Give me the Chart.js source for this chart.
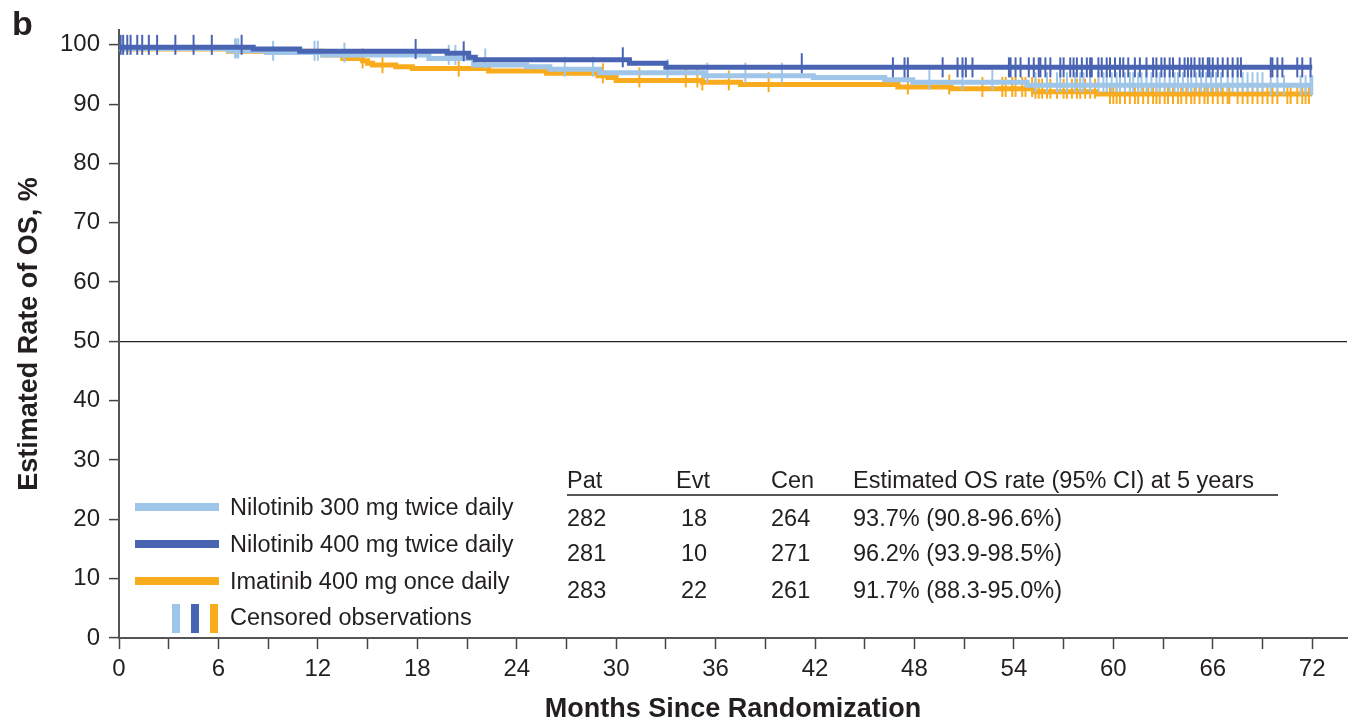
<!DOCTYPE html>
<html>
<head>
<meta charset="utf-8">
<script src="https://cdn.jsdelivr.net/npm/chart.js@4/dist/chart.umd.min.js"></script>
<style>
  html, body { margin: 0; padding: 0; background: #fff; }
  #wrap { position: relative; width: 1351px; height: 724px; font-family: "Liberation Sans", Arial, sans-serif; color: #231f20; }
  #c { position: absolute; left: 0; top: 0; }
  .panel { position: absolute; left: 12px; top: 4px; font-size: 34px; font-weight: bold; }
  .lg { position: absolute; font-size: 23.5px; line-height: 28px; white-space: nowrap; }
  .sw { position: absolute; height: 8px; width: 84px; left: 135px; }
  .bar { position: absolute; width: 8px; height: 29px; top: 604px; }
  .tb { position: absolute; font-size: 23.5px; line-height: 28px; white-space: nowrap; }
  .rule { position: absolute; left: 567px; width: 711px; top: 494px; height: 2px; background: #555; }
</style>
</head>
<body>
<div id="wrap">
  <canvas id="c" width="1351" height="724"></canvas>
  <div class="panel">b</div>
</div>
<script>
// --- data (months / %) ---
const xTicks = [0, 3, 6, 9, 12, 15, 18, 21, 24, 27, 30, 33, 36, 39, 42, 45, 48, 51, 54, 57, 60, 63, 66, 69, 72];
const yTicks = [0, 10, 20, 30, 40, 50, 60, 70, 80, 90, 100];

const armNames = ["Nilotinib 300 mg twice daily", "Nilotinib 400 mg twice daily", "Imatinib 400 mg once daily"];
const armColors = ["#9fc6e8", "#4a64b4", "#f9ab1e"];

// step curves: time of step, survival after step
const nil300Time = [0, 6.6, 8.9, 12.3, 18.7, 21.4, 24.6, 26.0, 29.0, 35.3, 41.9, 46.2, 47.9, 54.8, 69.3, 72];
const nil300Surv = [100, 99.4, 99.0, 98.7, 98.3, 97.7, 96.6, 96.3, 95.9, 95.3, 94.8, 94.5, 94.1, 93.7, 93.2, 93.2];
const nil400Time = [0, 8.1, 10.9, 19.8, 21.1, 21.5, 30.8, 33.0, 43.2, 72];
const nil400Surv = [100, 99.6, 99.3, 98.9, 98.6, 97.9, 97.5, 96.9, 96.2, 96.2];
const imaTime = [0, 6.6, 12.3, 13.5, 14.7, 15.0, 15.3, 16.7, 17.7, 22.3, 25.8, 28.9, 29.5, 30.0, 35.2, 37.5, 47.0, 50.2, 55.2, 59.0, 59.7, 72];
const imaSurv = [100, 99.3, 98.9, 98.3, 97.7, 97.3, 96.9, 96.6, 96.3, 96.0, 95.6, 95.2, 94.8, 94.5, 94.0, 93.7, 93.3, 92.9, 92.6, 92.1, 91.7, 91.7];

// censored observations (months)
const nil300Cens = [7.0, 7.1, 7.2, 9.3, 11.8, 12.0, 13.6, 19.9, 20.3, 22.1, 26.9, 28.6, 33.1, 35.5, 37.8, 40.0, 48.9, 50.9, 52.7,
  55.3, 56.0, 56.6, 56.8, 57.2, 57.7, 58.0, 58.2, 58.6, 59.1, 59.4, 59.6, 59.9, 60.2, 60.4, 60.7, 61.0, 61.2, 61.5, 61.7, 62.0,
  62.3, 62.6, 62.8, 63.1, 63.4, 63.7, 63.9, 64.2, 64.5, 64.7, 65.0, 65.3, 65.6, 65.9, 66.2, 66.5, 66.9, 67.2, 67.5, 67.8, 68.1,
  68.4, 68.7, 69.0, 69.5, 69.9, 70.3, 71.3, 71.6, 71.9, 72.0];
const nil400Cens = [0.1, 0.25, 0.5, 0.7, 1.1, 1.4, 1.8, 2.3, 3.4, 4.5, 5.6, 7.4, 17.9, 20.8, 30.4, 41.2, 46.7, 47.4, 47.6, 49.7,
  50.6, 50.9, 51.1, 51.5, 53.7, 53.8, 54.1, 54.4, 54.9, 55.2, 55.5, 55.6, 55.9, 56.2, 56.8, 57.0, 57.4, 57.6, 57.8, 58.1, 58.4,
  58.6, 58.7, 59.1, 59.3, 59.6, 59.8, 60.1, 60.4, 60.6, 60.9, 61.3, 61.6, 62.0, 62.4, 62.6, 62.9, 63.1, 63.4, 63.6, 64.0, 64.3,
  64.5, 64.7, 64.9, 65.2, 65.4, 65.7, 65.8, 66.0, 66.3, 66.6, 66.9, 67.2, 67.5, 67.7, 69.5, 69.6, 69.9, 70.2, 71.1, 71.4, 71.9];
const imaCens = [14.7, 15.9, 20.5, 29.2, 31.4, 34.2, 34.9, 35.2, 36.8, 39.2, 47.6, 50.1, 52.1, 53.3, 53.5, 53.9, 54.1, 54.5,
  54.7, 55.1, 55.3, 55.5, 55.7, 56.0, 56.2, 56.6, 57.0, 57.2, 57.5, 57.8, 58.0, 58.3, 58.6, 58.9, 59.8, 60.0, 60.2, 60.4, 60.7,
  61.0, 61.3, 61.5, 61.8, 62.1, 62.4, 62.6, 62.8, 63.1, 63.3, 63.6, 63.9, 64.1, 64.4, 64.7, 64.9, 65.2, 65.5, 65.7, 66.0, 66.3,
  66.6, 66.9, 67.0, 67.5, 67.8, 68.1, 68.4, 68.7, 69.0, 69.3, 69.6, 69.9, 70.5, 70.7, 71.1, 71.4, 71.6, 71.8];

// table at the bottom right
const tableHead = ["Pat", "Evt", "Cen", "Estimated OS rate (95% CI) at 5 years"];
const patCol = ["282", "281", "283"];
const evtCol = ["18", "10", "22"];
const cenCol = ["264", "271", "261"];
const rateCol = ["93.7% (90.8-96.6%)", "96.2% (93.9-98.5%)", "91.7% (88.3-95.0%)"];

// --- helpers ---
function curvePoints(times, surv) {
  return times.map((t, i) => ({ x: t, y: surv[i] }));
}
// value of the step curve at time t (lookup, no interpolation)
function survAt(times, surv, t) {
  let v = surv[0];
  for (let i = 0; i < times.length; i++) {
    if (times[i] <= t) v = surv[i];
  }
  return v;
}
function censPoints(cens, times, surv) {
  return cens.map(t => ({ x: t, y: survAt(times, surv, t) }));
}

function lineSet(label, times, surv, color, order) {
  return {
    label, data: curvePoints(times, surv), borderColor: color, borderWidth: 5,
    stepped: "after", pointRadius: 0, fill: false, order
  };
}
function censSet(label, cens, times, surv, color, order) {
  return {
    label, data: censPoints(cens, times, surv), showLine: false,
    pointStyle: "line", pointRotation: 90, pointRadius: 10,
    pointBorderColor: color, pointBorderWidth: 2, order
  };
}

// --- chart ---
Chart.defaults.font.family = '"Liberation Sans", Arial, sans-serif';
Chart.defaults.color = "#231f20";

const ctx = document.getElementById("c").getContext("2d");
new Chart(ctx, {
  type: "line",
  data: {
    datasets: [
      censSet("cens400", nil400Cens, nil400Time, nil400Surv, armColors[1], 1),
      lineSet(armNames[1], nil400Time, nil400Surv, armColors[1], 2),
      censSet("cens300", nil300Cens, nil300Time, nil300Surv, armColors[0], 3),
      lineSet(armNames[0], nil300Time, nil300Surv, armColors[0], 4),
      censSet("censIma", imaCens, imaTime, imaSurv, armColors[2], 5),
      lineSet(armNames[2], imaTime, imaSurv, armColors[2], 6)
    ]
  },
  options: {
    responsive: false,
    animation: false,
    devicePixelRatio: 1,
    layout: { autoPadding: false, padding: { top: 30, right: 4, left: 0, bottom: 0 } },
    plugins: { legend: { display: false }, tooltip: { enabled: false } },
    scales: {
      x: {
        type: "linear", min: 0, max: 74.1,
        afterFit: s => { s.height = 86; },
        afterBuildTicks: s => { s.ticks = xTicks.map(v => ({ value: v })); },
        border: { color: "#555", width: 2 },
        grid: { drawOnChartArea: false, tickLength: 11, tickColor: "#444", tickWidth: 1.5 },
        ticks: {
          padding: 6, font: { size: 24 }, maxRotation: 0, autoSkip: false,
          callback: v => (v % 6 === 0 ? v : "")
        },
        title: { display: true, text: "Months Since Randomization", font: { size: 27, weight: "bold", lineHeight: 1 }, padding: { top: 0, bottom: 1 } }
      },
      y: {
        min: 0, max: 102.5,
        afterFit: s => { s.width = 119; },
        afterBuildTicks: s => { s.ticks = yTicks.map(v => ({ value: v })); },
        border: { color: "#555", width: 2 },
        grid: {
          drawOnChartArea: true, tickLength: 10, tickColor: "#444", tickWidth: 1.5,
          color: c => (c.tick && c.tick.value === 50 ? "#222" : "rgba(0,0,0,0)"), lineWidth: 1.2
        },
        ticks: { padding: 9, font: { size: 24 } },
        title: { display: true, text: "Estimated Rate of OS, %", font: { size: 27, weight: "bold", lineHeight: 1 }, padding: { top: 16, bottom: 0 } }
      }
    }
  }
});

// --- legend and table as page text ---
const wrap = document.getElementById("wrap");
function addDiv(cls, style, text) {
  const d = document.createElement("div");
  d.className = cls;
  Object.assign(d.style, style);
  if (text !== undefined) d.textContent = text;
  wrap.appendChild(d);
  return d;
}

const legendY = [507, 543.5, 580.5];
armNames.forEach((name, i) => {
  addDiv("sw", { top: (legendY[i] - 4) + "px", background: armColors[i] });
  addDiv("lg", { left: "230px", top: (legendY[i] - 14) + "px" }, name);
});
[172, 191, 210].forEach((x, i) => addDiv("bar", { left: x + "px", background: armColors[i] }));
addDiv("lg", { left: "230px", top: "603px" }, "Censored observations");

const colX = [567, 676, 771, 853];
tableHead.forEach((h, i) => addDiv("tb", { left: colX[i] + "px", top: "466px" }, h));
addDiv("rule", {});
const rowY = [504, 539, 576];
rowY.forEach((y, r) => {
  addDiv("tb", { left: colX[0] + "px", top: y + "px" }, patCol[r]);
  addDiv("tb", { left: "681px", top: y + "px" }, evtCol[r]);
  addDiv("tb", { left: colX[2] + "px", top: y + "px" }, cenCol[r]);
  addDiv("tb", { left: colX[3] + "px", top: y + "px" }, rateCol[r]);
});
</script>
</body>
</html>
